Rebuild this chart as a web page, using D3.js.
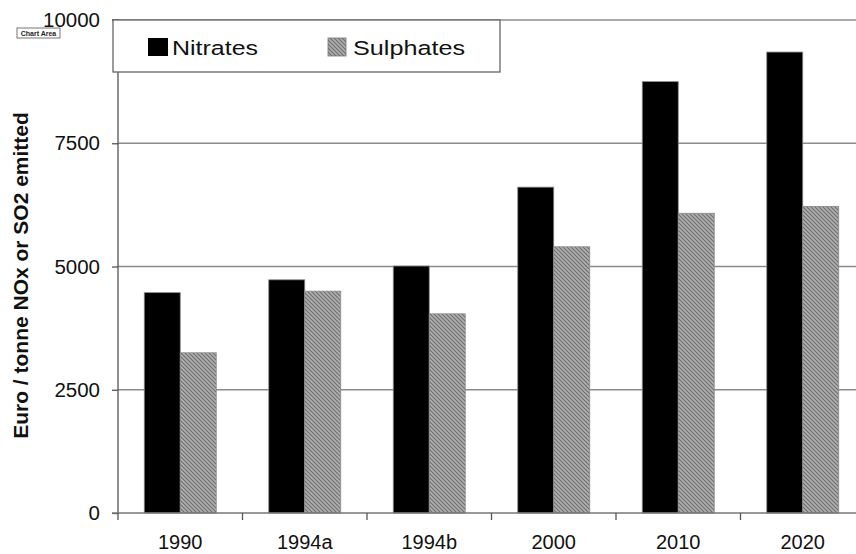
<!DOCTYPE html>
<html><head><meta charset="utf-8">
<script src="https://cdn.jsdelivr.net/npm/d3@7"></script>
<style>body{margin:0;background:#fff}svg{display:block;font-family:"Liberation Sans",Arial,sans-serif}</style>
</head><body><svg id="c" width="856" height="554"></svg>
<script>
const categories = ["1990","1994a","1994b","2000","2010","2020"];
const nitrates = [4470, 4730, 5010, 6610, 8750, 9350];
const sulphates = [3250, 4500, 4040, 5400, 6080, 6220];
const seriesNames = ["Nitrates","Sulphates"];
const yTicks = [0, 2500, 5000, 7500, 10000];

const svg = d3.select("#c");
const m = {left:118, top:20, bottom:41};
const W = 856, H = 554;
const x = d3.scaleBand().domain(categories).range([m.left, m.left + 6*124.5]).paddingInner(0).paddingOuter(0);
const y = d3.scaleLinear().domain([0, 10000]).range([H - m.bottom, m.top]);

const defs = svg.append("defs");
const pat = defs.append("pattern").attr("id","hatch").attr("patternUnits","userSpaceOnUse")
  .attr("width",4).attr("height",4);
pat.append("rect").attr("width",4).attr("height",4).attr("fill","#b0b0b0");
pat.append("path").attr("d","M-1,-1 L5,5 M-1,3 L1,5 M3,-1 L5,1").attr("stroke","#6e6e6e").attr("stroke-width",1.2);

// gridlines
svg.append("g").selectAll("line").data(yTicks.filter(d=>d>0)).join("line")
  .attr("x1", m.left).attr("x2", W).attr("y1", d=>y(d)).attr("y2", d=>y(d))
  .attr("stroke","#8c8c8c").attr("stroke-width",1.5);

// bars
const groupW = 72;
const g = svg.append("g");
categories.forEach((c,i)=>{
  const cx = x(c) + x.bandwidth()/2;
  const vals = [nitrates[i], sulphates[i]];
  const bx = d3.scaleBand().domain(seriesNames).range([cx-groupW/2, cx+groupW/2]);
  vals.forEach((v,j)=>{
    g.append("rect").attr("x", bx(seriesNames[j])).attr("y", y(v))
      .attr("width", bx.bandwidth()).attr("height", y(0)-y(v))
      .attr("fill", j===0 ? "#000" : "url(#hatch)")
      .attr("stroke", "#8a8a8a").attr("stroke-width", 0.8);
  });
});

// y axis
const ya = svg.append("g").attr("transform",`translate(${m.left},0)`)
  .call(d3.axisLeft(y).tickValues(yTicks).tickSize(6).tickPadding(12).tickFormat(d3.format("d")));
ya.select(".domain").attr("stroke","#555").attr("stroke-width",1.3).attr("d",`M-6,${y(10000)}H0V${y(0)}`);
ya.selectAll(".tick line").attr("stroke","#555").attr("stroke-width",1.3);
ya.selectAll(".tick text").attr("font-size",20.5).attr("fill","#111").attr("font-family","Liberation Sans, Arial, sans-serif");

// x axis
const xa = svg.append("g").attr("transform",`translate(0,${y(0)})`);
xa.append("line").attr("x1", m.left-6).attr("x2", W).attr("y1",0).attr("y2",0).attr("stroke","#777").attr("stroke-width",1.5);
xa.selectAll("line.t").data(categories).join("line").attr("class","t")
  .attr("x1", d=>x(d)).attr("x2", d=>x(d)).attr("y1",0).attr("y2",7).attr("stroke","#555").attr("stroke-width",1.3);
xa.selectAll("text").data(categories).join("text")
  .attr("x", d=>x(d)+x.bandwidth()/2).attr("y", 36).attr("text-anchor","middle")
  .attr("font-size",20).attr("fill","#111").text(d=>d);

// y title
svg.append("text").attr("transform","translate(28,275.5) rotate(-90)").attr("text-anchor","middle")
  .attr("font-size",21).attr("font-weight","bold").attr("fill","#111").text("Euro / tonne NOx or SO2 emitted");

// legend
const lg = svg.append("g");
lg.append("rect").attr("x",113).attr("y",20).attr("width",387).attr("height",52)
  .attr("fill","#fff").attr("stroke","#666").attr("stroke-width",1.3);
lg.append("rect").attr("x",148).attr("y",38).attr("width",20).attr("height",18).attr("fill","#000");
lg.append("text").attr("x",172).attr("y",55).attr("font-size",20.5).attr("fill","#111")
  .attr("textLength",86).attr("lengthAdjust","spacingAndGlyphs").text(seriesNames[0]);
lg.append("rect").attr("x",328).attr("y",38).attr("width",18).attr("height",18).attr("fill","url(#hatch)").attr("stroke","#777").attr("stroke-width",0.8);
lg.append("text").attr("x",353).attr("y",55).attr("font-size",20.5).attr("fill","#111")
  .attr("textLength",112).attr("lengthAdjust","spacingAndGlyphs").text(seriesNames[1]);

// Chart Area tag
svg.append("rect").attr("x",17).attr("y",28).attr("width",43).attr("height",10).attr("fill","#fff").attr("stroke","#777").attr("stroke-width",1);
svg.append("text").attr("x",38.5).attr("y",35.5).attr("text-anchor","middle").attr("font-size",7).attr("font-weight","bold").attr("fill","#222").text("Chart Area");
</script></body></html>
